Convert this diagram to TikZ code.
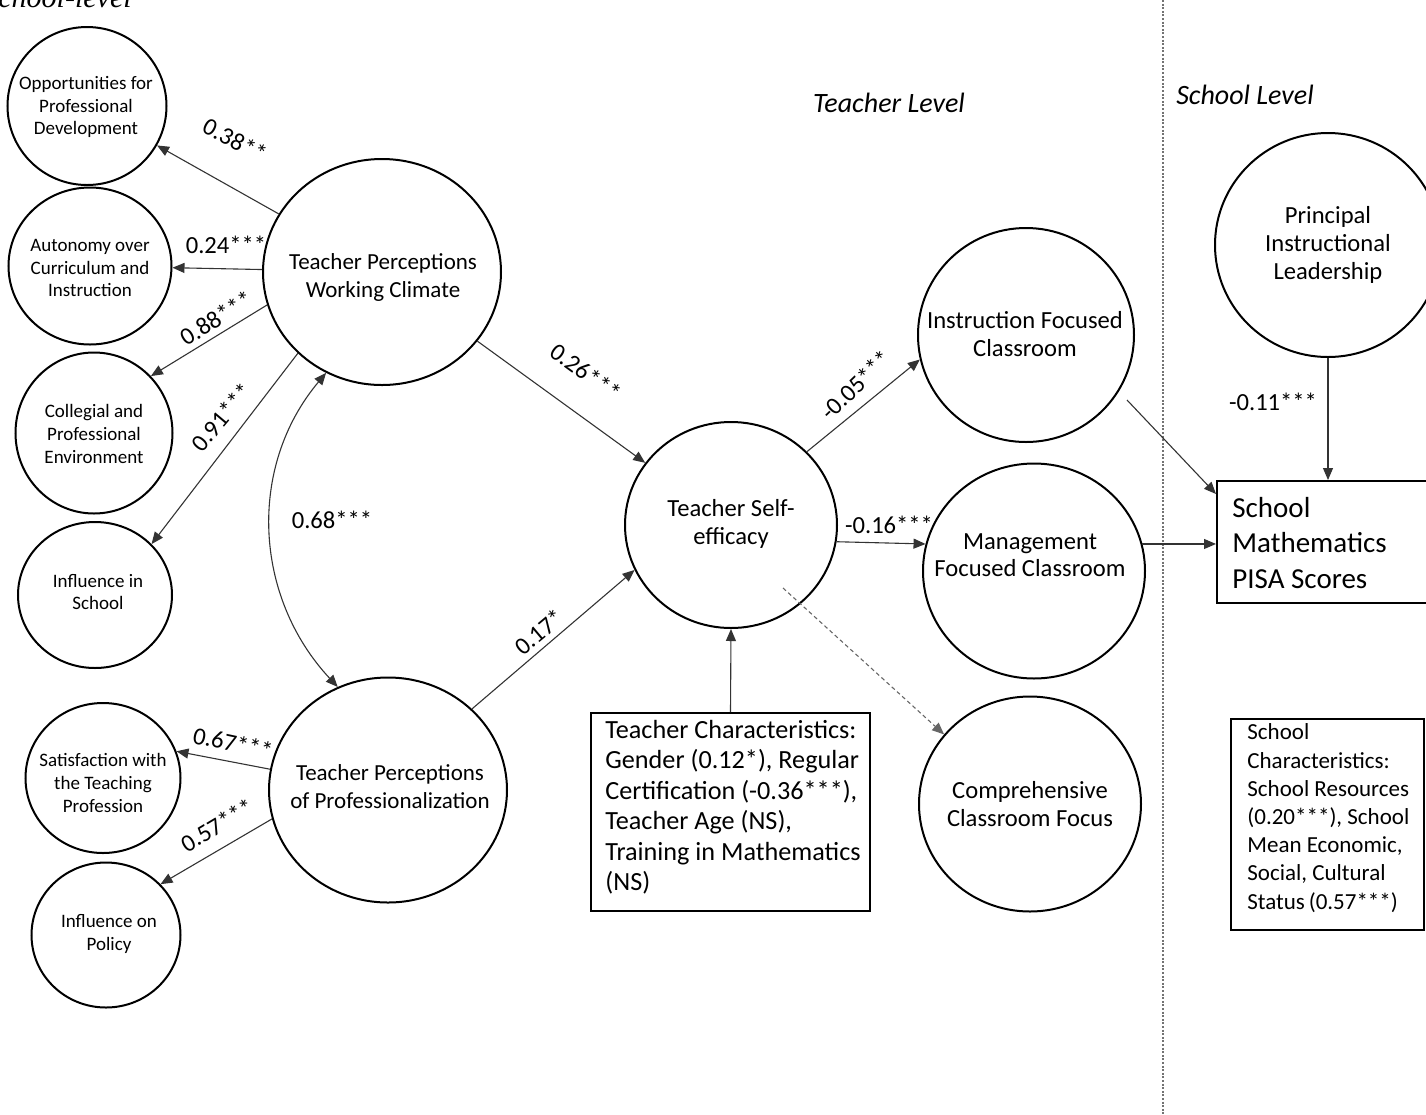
\documentclass[tikz,border=0pt]{standalone}
\usepackage{fontspec}
\setmainfont{Carlito}
\newfontfamily\serifit{Liberation Serif}
\usetikzlibrary{arrows.meta,shapes.geometric,calc}
\begin{document}
\begin{tikzpicture}[x=0.5pt,y=0.5pt,
 circ/.style 2 args={ellipse,draw,line width=1pt,inner sep=0pt,minimum width=#1,minimum height=#2},
 stxt/.style={align=center,inner sep=0pt,font=\fontsize{9.5}{11.3}\selectfont},
 mtxt/.style={align=center,inner sep=0pt,font=\fontsize{11.5}{14}\selectfont},
 btxt/.style={align=center,inner sep=0pt,font=\fontsize{12.3}{13.8}\selectfont},
 lbl/.style={inner sep=0pt,font=\fontsize{12.3}{14}\selectfont},
 tip/.tip={Triangle[length=6pt,width=5pt]},
 arr/.style={-tip,line width=0.55pt,black!80},
 boxr/.style 2 args={draw,line width=1pt,rectangle,inner sep=0pt,minimum width=#1,minimum height=#2},
 lvl/.style={inner sep=0pt,font=\fontsize{14}{16}\selectfont\itshape},
 ltxt/.style={anchor=west,align=left,inner sep=0pt}]

\useasboundingbox (0,0) rectangle (1426,-1115);
\clip (0,0) rectangle (1426,-1115);

% headings
\node[inner sep=0pt,anchor=base west,font=\serifit\itshape\fontsize{15}{18}\selectfont] (slvl) at (-17,-7) {School-level};
\node[lvl] (tlvl) at (889,-103) {Teacher Level};
\node[lvl] (slvl2) at (1245,-95) {School Level};

% divider
\draw[black!55,line width=0.7pt,dash pattern=on 1pt off 0.8pt] (1163,0) -- (1163,-1115);

% left small circles
\node[circ={79.5pt}{79pt}] (opp) at (87,-106) {};
\node[stxt] (oppT) at (86,-107) {Opportunities for\\Professional\\Development};
\node[circ={81.5pt}{78.5pt}] (aut) at (90,-266) {};
\node[stxt] (autT) at (90,-268) {Autonomy over\\Curriculum and\\Instruction};
\node[circ={78.5pt}{80.5pt}] (coll) at (94,-433) {};
\node[stxt] (collT) at (94,-434) {Collegial and\\Professional\\Environment};
\node[circ={77pt}{73pt}] (infs) at (95,-595) {};
\node[stxt] (infsT) at (98,-592) {Influence in\\School};
\node[circ={77.5pt}{75pt}] (sat) at (103,-778) {};
\node[stxt] (satT) at (103,-783) {Satisfaction with\\the Teaching\\Profession};
\node[circ={74.5pt}{72.5pt}] (pol) at (106,-935) {};
\node[stxt] (polT) at (109,-934) {Influence on\\Policy};

% big circles
\node[circ={119pt}{113pt}] (tpwc) at (382,-272) {};
\node[mtxt] (tpwcT) at (383,-277) {Teacher Perceptions\\Working Climate};
\node[circ={119pt}{112.5pt}] (tpp) at (388,-790) {};
\node[mtxt] (tppT) at (390,-787) {Teacher Perceptions\\of Professionalization};
\node[circ={106pt}{103pt}] (tse) at (731,-525) {};
\node[btxt] (tseT) at (731,-524) {Teacher Self-\\efficacy};
\node[circ={108pt}{107pt}] (ifc) at (1026,-335) {};
\node[btxt] (ifcT) at (1025,-334) {Instruction Focused\\Classroom};
\node[circ={111pt}{107.5pt}] (mfc) at (1034,-571) {};
\node[btxt] (mfcT) at (1030,-555) {Management\\Focused Classroom};
\node[circ={111pt}{107.5pt}] (ccf) at (1030,-804) {};
\node[btxt] (ccfT) at (1030,-804) {Comprehensive\\Classroom Focus};
\node[circ={113pt}{112pt}] (pil) at (1328,-245) {};
\node[btxt] (pilT) at (1328,-245) {Principal\\Instructional\\Leadership};

% boxes
\node[boxr={114pt}{61pt}] (pisa) at (1331,-542) {};
\node[ltxt,font=\fontsize{14.5}{17.75}\selectfont] (pisaT) at (1232,-543) {School\\Mathematics\\PISA Scores};
\node[boxr={139.5pt}{99pt}] (tc) at (730.5,-812) {};
\node[ltxt,font=\fontsize{13.1}{15.25}\selectfont] (tcT) at (605,-807) {Teacher Characteristics:\\Gender (0.12*), Regular\\Certification (-0.36***),\\Teacher Age (NS),\\Training in Mathematics\\(NS)};
\node[boxr={96.5pt}{105.5pt}] (sc) at (1327.5,-824.5) {};
\node[ltxt,font=\fontsize{11.5}{14.1}\selectfont] (scT) at (1247,-818) {School\\Characteristics:\\School Resources\\(0.20***), School\\Mean Economic,\\Social, Cultural\\Status\,(0.57***)};

% connectors
\draw[arr] (tpwc) -- (opp);
\draw[arr] (tpwc) -- (aut);
\draw[arr] (tpwc.196) -- (coll.45);
\draw[arr] (tpwc.224) -- (infs.42);
\draw[tip-tip,line width=0.55pt,black!80] (tpwc.241) to[out=230,in=133] (tpp.116);
\draw[arr] (tpwc) -- (tse);
\draw[arr] (tpp.44) -- (tse.205);
\draw[arr] (tpp.170) -- (sat.20);
\draw[arr] (tpp.194) -- (pol.43);
\draw[arr] (tse.44) -- (ifc.193);
\draw[arr] (tse.-9) -- (mfc.166);
\coordinate (dstart) at (783,-588);
\draw[arr,black!60,dash pattern=on 2pt off 1.5pt] (dstart) -- (ccf.141);
\draw[arr] (tc.north) -- (tse.south);
\coordinate (ifcout) at (1127,-400);
\draw[arr] (ifcout) -- ($(pisa.north west)+(0,-14)$);
\draw[arr] (mfc.14) -- (mfc.14 -| pisa.west);
\draw[arr] (pil.south) -- (pil.south |- pisa.north);

% labels
\node[lbl,rotate=-28] (l38) at (235,-140) {0.38**};
\node[lbl] (l24) at (226,-245) {0.24***};
\node[lbl,rotate=32] (l88) at (216,-318) {0.88***};
\node[lbl,rotate=50] (l91) at (222,-417) {0.91***};
\node[lbl] (l68) at (332,-520) {0.68***};
\node[lbl,rotate=-12] (l67) at (233,-743) {0.67***};
\node[lbl,rotate=31] (l57) at (217,-825) {0.57***};
\node[lbl,rotate=-36] (l26) at (586,-372) {0.26***};
\node[lbl,rotate=40] (l17) at (539,-632) {0.17*};
\node[lbl,rotate=44] (l05) at (856,-385) {-0.05***};
\node[lbl] (l16) at (889,-525) {-0.16***};
\node[lbl] (l11) at (1273,-402) {-0.11***};
\end{tikzpicture}
\end{document}
